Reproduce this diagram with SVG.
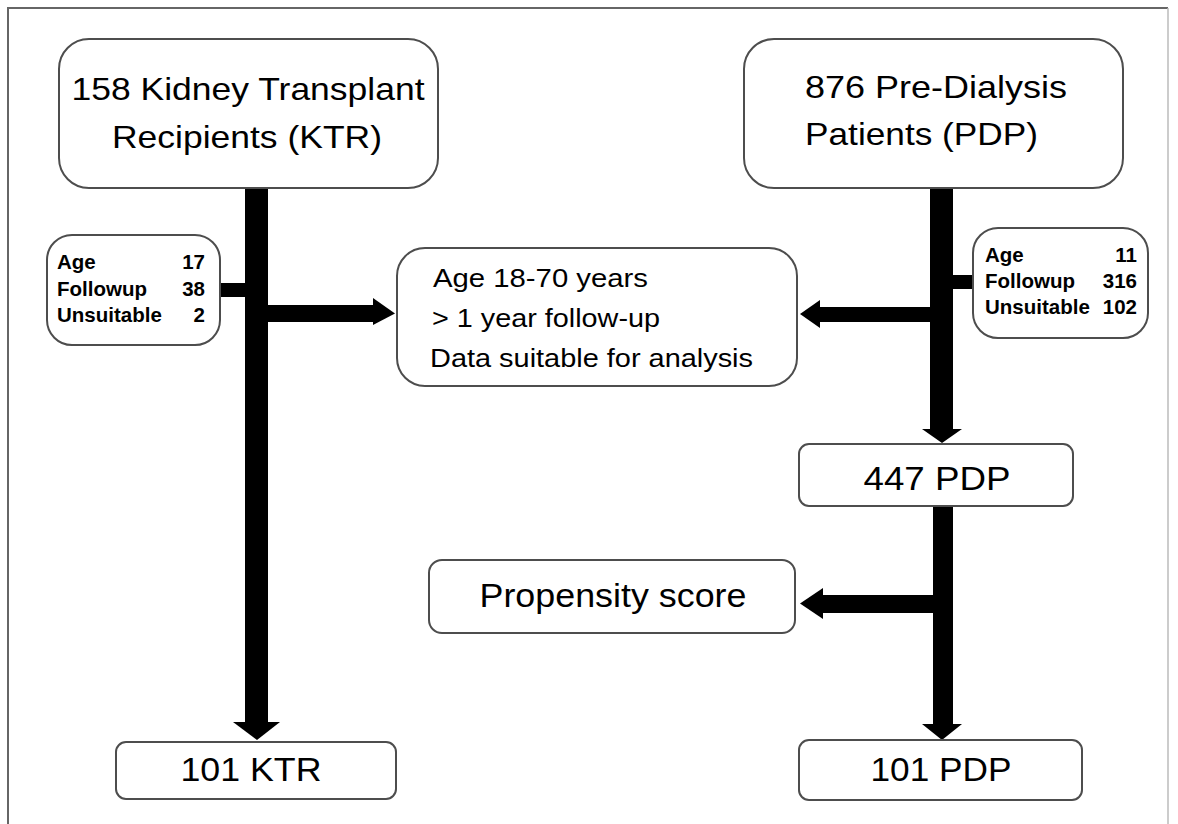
<svg xmlns="http://www.w3.org/2000/svg" width="1178" height="824" viewBox="0 0 1178 824">
<style>
.box{fill:#fff;stroke:#4d4d4d;stroke-width:2}
.t{font-family:"Liberation Sans",Arial,sans-serif;fill:#000}
.b{font-family:"Liberation Sans",Arial,sans-serif;font-weight:bold;font-size:20.5px;fill:#000}
.c{fill:#000;stroke:none}
</style>
<rect width="1178" height="824" fill="#fff"/>
<path d="M8,830 V8 H1168" fill="none" stroke="#666" stroke-width="2"/>
<path d="M1168,8 V830" fill="none" stroke="#bbb" stroke-width="1.5"/>

<g id="connectors" class="c">
  <rect x="245" y="188" width="23" height="534"/>
  <polygon points="233,722 280,722 257,740"/>
  <rect x="220" y="283" width="25" height="14"/>
  <rect x="268" y="305" width="107" height="17"/>
  <polygon points="373,298 373,325 395,313.5"/>
  <rect x="930" y="188" width="23" height="241"/>
  <polygon points="922,429 962,429 942,443"/>
  <rect x="953" y="275" width="22" height="14"/>
  <rect x="818" y="307" width="113" height="15"/>
  <polygon points="820,300 820,328 800,314"/>
  <rect x="933" y="506" width="20" height="218"/>
  <polygon points="922,724 962,724 942,740"/>
  <rect x="821" y="595" width="112" height="18"/>
  <polygon points="823,588 823,619 800,603.5"/>
</g>

<g id="ktr">
  <rect class="box" x="59" y="39" width="379" height="149" rx="30"/>
  <text class="t" font-size="32" x="248" y="100" text-anchor="middle" textLength="353" lengthAdjust="spacingAndGlyphs">158 Kidney Transplant</text>
  <text class="t" font-size="32" x="247" y="148" text-anchor="middle" textLength="270" lengthAdjust="spacingAndGlyphs">Recipients (KTR)</text>
</g>

<g id="pdp">
  <rect class="box" x="744" y="39" width="379" height="149" rx="30"/>
  <text class="t" font-size="32" x="805" y="98" textLength="262" lengthAdjust="spacingAndGlyphs">876 Pre-Dialysis</text>
  <text class="t" font-size="32" x="805" y="145" textLength="233" lengthAdjust="spacingAndGlyphs">Patients (PDP)</text>
</g>

<g id="ktr-excl">
  <rect class="box" x="47" y="235" width="173" height="110" rx="25"/>
  <text class="b" x="57" y="269">Age</text>
  <text class="b" x="205" y="269" text-anchor="end">17</text>
  <text class="b" x="57" y="296">Followup</text>
  <text class="b" x="205" y="296" text-anchor="end">38</text>
  <text class="b" x="57" y="322">Unsuitable</text>
  <text class="b" x="205" y="322" text-anchor="end">2</text>
</g>

<g id="pdp-excl">
  <rect class="box" x="973" y="228" width="175" height="110" rx="25"/>
  <text class="b" x="985" y="262">Age</text>
  <text class="b" x="1137" y="262" text-anchor="end">11</text>
  <text class="b" x="985" y="288">Followup</text>
  <text class="b" x="1137" y="288" text-anchor="end">316</text>
  <text class="b" x="985" y="314">Unsuitable</text>
  <text class="b" x="1137" y="314" text-anchor="end">102</text>
</g>

<g id="criteria">
  <rect class="box" x="397" y="248" width="400" height="138" rx="28"/>
  <text class="t" font-size="26" x="433" y="287" textLength="215" lengthAdjust="spacingAndGlyphs">Age 18-70 years</text>
  <text class="t" font-size="26" x="432" y="327" textLength="228" lengthAdjust="spacingAndGlyphs">&gt; 1 year follow-up</text>
  <text class="t" font-size="26" x="430" y="367" textLength="323" lengthAdjust="spacingAndGlyphs">Data suitable for analysis</text>
</g>

<g id="pdp447">
  <rect class="box" x="799" y="444" width="274" height="62" rx="10"/>
  <text class="t" font-size="34" x="937" y="490" text-anchor="middle" textLength="147" lengthAdjust="spacingAndGlyphs">447 PDP</text>
</g>

<g id="propensity">
  <rect class="box" x="429" y="560" width="366" height="73" rx="13"/>
  <text class="t" font-size="33" x="613" y="607" text-anchor="middle" textLength="267" lengthAdjust="spacingAndGlyphs">Propensity score</text>
</g>

<g id="ktr101">
  <rect class="box" x="116" y="742" width="280" height="57" rx="10"/>
  <text class="t" font-size="33" x="251" y="781" text-anchor="middle" textLength="141" lengthAdjust="spacingAndGlyphs">101 KTR</text>
</g>

<g id="pdp101">
  <rect class="box" x="799" y="740" width="283" height="60" rx="10"/>
  <text class="t" font-size="33" x="941" y="781" text-anchor="middle" textLength="141" lengthAdjust="spacingAndGlyphs">101 PDP</text>
</g>
</svg>
